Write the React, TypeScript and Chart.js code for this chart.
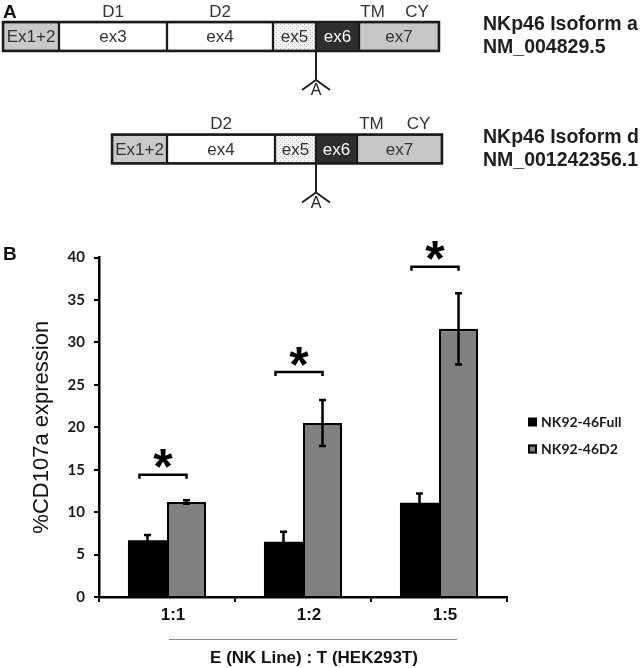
import React, { useEffect, useRef } from 'react';
import { Chart, registerables } from 'chart.js';

Chart.register(...registerables);

// ---------- Panel A data (exon structure) ----------
const isoformRows = ['a', 'd'];
const isoformNames = ['NKp46 Isoform a', 'NKp46 Isoform d'];
const isoformAccessions = ['NM_004829.5', 'NM_001242356.1'];
const exonNames = ['Ex1+2', 'ex3', 'ex4', 'ex5', 'ex6', 'ex7'];
const exonLengthsA: (number | null)[] = [56, 108, 106, 43, 43, 80];
const exonLengthsD: (number | null)[] = [55, null, 108, 41, 41, 85];
const domainLabels = ['D1', 'D2', 'TM', 'CY'];
const domainExons = [1, 2, 5, 5];
const domainRows = [[0], [0, 1], [0, 1], [0, 1]];
const markerLabel = 'A';

// ---------- Panel B data (bar chart) ----------
const ratioCategories = ['1:1', '1:2', '1:5'];
const seriesNames = ['NK92-46Full', 'NK92-46D2'];
const fullValues = [6.7, 6.5, 11.1];
const fullErrors = [0.6, 1.2, 1.1];
const d2Values = [11.2, 20.5, 31.6];
const d2Errors = [0.2, 2.7, 4.2];
const significanceLevels = [14.4, 26.5, 38.9];
const significanceMarks = ['*', '*', '*'];
const yAxisMin = 0;
const yAxisMax = 40;
const yAxisStep = 5;
const xAxisTitle = 'E (NK Line) : T (HEK293T)';
const yAxisTitle = '%CD107a expression';

const SANS = '"Liberation Sans", Arial, sans-serif';

function rowSegments(lengths: (number | null)[], start: number) {
  let x = start;
  return lengths.map((l) => {
    if (l == null) return null;
    const seg: [number, number] = [x, x + l];
    x += l;
    return seg;
  });
}
const prefix = (lengths: (number | null)[], upto: number) =>
  lengths.slice(0, upto).reduce((s: number, l) => s + (l ?? 0), 0);

const panelAPlugin = {
  id: 'panelA',
  afterDatasetsDraw(chart: any) {
    const ctx: CanvasRenderingContext2D = chart.ctx;
    const ds = chart.data.datasets;
    ctx.save();
    isoformRows.forEach((_, r) => {
      const items: any[] = [];
      ds.forEach((d: any, i: number) => {
        if (d.data[r] == null) return;
        const el = chart.getDatasetMeta(i).data[r];
        const p = el.getProps(['x', 'base', 'y', 'height'], true);
        items.push({ i, left: Math.min(p.x, p.base), right: Math.max(p.x, p.base), y: p.y, h: p.height });
      });
      const left = Math.min(...items.map((t) => t.left));
      const right = Math.max(...items.map((t) => t.right));
      const top = items[0].y - items[0].h / 2;
      const bottom = items[0].y + items[0].h / 2;
      // outer outline
      ctx.strokeStyle = '#1b1b1b';
      ctx.lineWidth = 2.5;
      ctx.strokeRect(left, top, right - left, bottom - top);
      // exon labels
      ctx.font = `17px ${SANS}`;
      ctx.textAlign = 'center';
      ctx.textBaseline = 'middle';
      items.forEach((t) => {
        ctx.fillStyle = t.i === 4 ? '#ffffff' : '#333333';
        ctx.fillText(exonNames[t.i], (t.left + t.right) / 2, t.y + 1);
      });
      // domain labels
      const fractions = [0.5, 0.5, 0.17, 0.725];
      domainLabels.forEach((lab, k) => {
        if (!domainRows[k].includes(r)) return;
        const t = items.find((it) => it.i === domainExons[k]);
        if (!t) return;
        ctx.fillStyle = '#333333';
        ctx.fillText(lab, t.left + (t.right - t.left) * fractions[k], top - 10);
      });
      // A marker at ex5/ex6 junction
      const ex6 = items.find((it) => it.i === 4);
      if (ex6) {
        const ax = ex6.left;
        const apex = bottom + 29;
        ctx.strokeStyle = '#222';
        ctx.lineWidth = 2;
        ctx.beginPath();
        ctx.moveTo(ax, bottom);
        ctx.lineTo(ax, apex);
        ctx.moveTo(ax - 14, apex + 10);
        ctx.lineTo(ax, apex);
        ctx.lineTo(ax + 14, apex + 10);
        ctx.stroke();
        ctx.fillStyle = '#222';
        ctx.font = `16px ${SANS}`;
        ctx.fillText(markerLabel, ax, apex + 11);
      }
      // isoform names
      ctx.textAlign = 'left';
      ctx.fillStyle = '#1e1e1e';
      ctx.font = `bold 19.5px ${SANS}`;
      ctx.fillText(isoformNames[r], 483, top + 3);
      ctx.fillText(isoformAccessions[r], 483, top + 26);
    });
    // panel letter
    ctx.fillStyle = '#111';
    ctx.font = `bold 19px ${SANS}`;
    ctx.textAlign = 'left';
    ctx.textBaseline = 'middle';
    ctx.fillText('A', 3, 13);
    ctx.restore();
  },
};

const panelBPlugin = {
  id: 'panelB',
  afterDraw(chart: any) {
    const ctx: CanvasRenderingContext2D = chart.ctx;
    const ys = chart.scales.y;
    const m0 = chart.getDatasetMeta(0);
    const m1 = chart.getDatasetMeta(1);
    ctx.save();
    ctx.strokeStyle = '#000';
    ctx.lineCap = 'butt';
    // error bars
    const errs = [fullErrors, d2Errors];
    const vals = [fullValues, d2Values];
    [m0, m1].forEach((meta, i) => {
      meta.data.forEach((el: any, j: number) => {
        const x = el.x;
        const yt = ys.getPixelForValue(vals[i][j] + errs[i][j]);
        const yb = ys.getPixelForValue(vals[i][j] - errs[i][j]);
        ctx.lineWidth = 2.5;
        ctx.beginPath();
        ctx.moveTo(x, yb);
        ctx.lineTo(x, yt);
        ctx.moveTo(x - 3.5, yt);
        ctx.lineTo(x + 3.5, yt);
        ctx.moveTo(x - 3.5, yb);
        ctx.lineTo(x + 3.5, yb);
        ctx.stroke();
      });
    });
    // significance brackets
    ratioCategories.forEach((_, j) => {
      const l = m0.data[j].x - 8;
      const r = m1.data[j].x;
      const y = ys.getPixelForValue(significanceLevels[j]);
      ctx.lineWidth = 2.5;
      ctx.beginPath();
      ctx.moveTo(l, y + 4);
      ctx.lineTo(l, y);
      ctx.lineTo(r, y);
      ctx.lineTo(r, y + 4);
      ctx.stroke();
      ctx.fillStyle = '#000';
      ctx.font = `bold 50px ${SANS}`;
      ctx.textAlign = 'center';
      ctx.textBaseline = 'alphabetic';
      const mt = ctx.measureText(significanceMarks[j]);
      const cy = y - 16;
      const base = cy - (mt.actualBoundingBoxDescent - mt.actualBoundingBoxAscent) / 2;
      ctx.fillText(significanceMarks[j], (l + r) / 2, base);
    });
    // legend
    const ds = chart.data.datasets;
    const legendY = [222, 249];
    ctx.font = `bold 14px Lato, ${SANS}`;
    ctx.textAlign = 'left';
    ctx.textBaseline = 'middle';
    ds.forEach((d: any, i: number) => {
      const y = legendY[i];
      ctx.fillStyle = d.backgroundColor;
      ctx.fillRect(528, y - 4.5, 9, 9);
      if (i === 1) {
        ctx.lineWidth = 2;
        ctx.strokeStyle = '#000';
        ctx.strokeRect(529, y - 3.5, 7, 7);
      }
      ctx.fillStyle = '#1a1a1a';
      ctx.fillText(d.label, 541, y + 0.5);
    });
    // y axis title
    ctx.save();
    ctx.translate(42, (chart.chartArea.top + chart.chartArea.bottom) / 2);
    ctx.rotate(-Math.PI / 2);
    ctx.fillStyle = '#111';
    ctx.font = `22px ${SANS}`;
    ctx.textAlign = 'center';
    ctx.textBaseline = 'middle';
    ctx.fillText(yAxisTitle, 0, 0);
    ctx.restore();
    // x axis title with rule
    ctx.strokeStyle = '#8a8a8a';
    ctx.lineWidth = 1;
    ctx.beginPath();
    ctx.moveTo(169, 439.5);
    ctx.lineTo(457, 439.5);
    ctx.stroke();
    ctx.fillStyle = '#111';
    ctx.font = `bold 17px ${SANS}`;
    ctx.textAlign = 'center';
    ctx.textBaseline = 'middle';
    ctx.fillText(xAxisTitle, 314, 458);
    // panel letter
    ctx.font = `bold 19px ${SANS}`;
    ctx.textAlign = 'left';
    ctx.fillText('B', 3, 55);
    ctx.restore();
  },
};

export default function App() {
  const refA = useRef<HTMLCanvasElement>(null);
  const refB = useRef<HTMLCanvasElement>(null);

  useEffect(() => {
    const cA = refA.current!;
    const cB = refB.current!;
    const pc = document.createElement('canvas');
    pc.width = 4;
    pc.height = 4;
    const pctx = pc.getContext('2d')!;
    pctx.fillStyle = '#f3f3f3';
    pctx.fillRect(0, 0, 4, 4);
    pctx.fillStyle = '#bdbdbd';
    pctx.fillRect(0, 0, 1, 1);
    pctx.fillRect(2, 2, 1, 1);
    const dotted = cA.getContext('2d')!.createPattern(pc, 'repeat');
    const exonFills: any[] = ['#c9c9c9', '#ffffff', '#ffffff', dotted, '#2e2e2e', '#c6c6c6'];

    const startA = 3;
    const startD = startA + prefix(exonLengthsA, 2) - prefix(exonLengthsD, 2);
    const segA = rowSegments(exonLengthsA, startA);
    const segD = rowSegments(exonLengthsD, startD);

    const chartA = new Chart(cA, {
      type: 'bar',
      data: {
        labels: isoformRows,
        datasets: exonNames.map((name, i) => ({
          label: name,
          data: [segA[i], segD[i]] as any,
          backgroundColor: exonFills[i],
          borderColor: '#1b1b1b',
          borderWidth: 1.5,
          borderSkipped: false,
          barThickness: 29,
          grouped: false,
          clip: false as any,
        })),
      },
      options: {
        indexAxis: 'y',
        responsive: false,
        animation: false,
        events: [],
        layout: { padding: { left: 0, right: 0, top: 36.5, bottom: 66 } },
        scales: {
          x: { type: 'linear', min: 0, max: 641, display: false },
          y: { type: 'category', display: false, offset: false },
        },
        plugins: { legend: { display: false }, tooltip: { enabled: false } },
      },
      plugins: [panelAPlugin],
    });

    const chartB = new Chart(cB, {
      type: 'bar',
      data: {
        labels: ratioCategories,
        datasets: [
          {
            label: seriesNames[0],
            data: fullValues,
            backgroundColor: '#000000',
            borderColor: '#000000',
            borderWidth: 0,
            categoryPercentage: 0.574,
            barPercentage: 1,
          },
          {
            label: seriesNames[1],
            data: d2Values,
            backgroundColor: '#808080',
            borderColor: '#000000',
            borderWidth: 2.5,
            categoryPercentage: 0.574,
            barPercentage: 1,
          },
        ],
      },
      options: {
        responsive: false,
        animation: false,
        events: [],
        layout: { padding: { top: 57.5, right: 134, left: 0, bottom: 0 } },
        scales: {
          x: {
            grid: { drawOnChartArea: false, drawTicks: true, tickLength: 5, color: '#000', lineWidth: 2, offset: true },
            border: { display: true, color: '#000', width: 2.5 },
            ticks: { font: { family: SANS, weight: 'bold', size: 17 }, color: '#111', padding: 3, labelOffset: 6 },
            afterFit: (s: any) => {
              s.height = 71;
            },
          },
          y: {
            min: yAxisMin,
            max: yAxisMax,
            ticks: { stepSize: yAxisStep, font: { family: 'Lato', weight: 'bold', size: 15 }, color: '#1a1a1a', padding: 9 },
            grid: { drawOnChartArea: false, drawTicks: true, tickLength: 5, color: '#000', lineWidth: 2 },
            border: { display: true, color: '#000', width: 2.5 },
            afterFit: (s: any) => {
              s.width = 99;
            },
          },
        },
        plugins: { legend: { display: false }, tooltip: { enabled: false } },
      },
      plugins: [panelBPlugin],
    });

    return () => {
      chartA.destroy();
      chartB.destroy();
    };
  }, []);

  return (
    <div style={{ position: 'absolute', left: 0, top: 0, width: 641, height: 668, background: '#fff', overflow: 'hidden' }}>
      <canvas ref={refA} width={641} height={215} style={{ position: 'absolute', left: 0, top: 0, width: 641, height: 215 }} />
      <canvas ref={refB} width={641} height={468} style={{ position: 'absolute', left: 0, top: 200, width: 641, height: 468 }} />
    </div>
  );
}
